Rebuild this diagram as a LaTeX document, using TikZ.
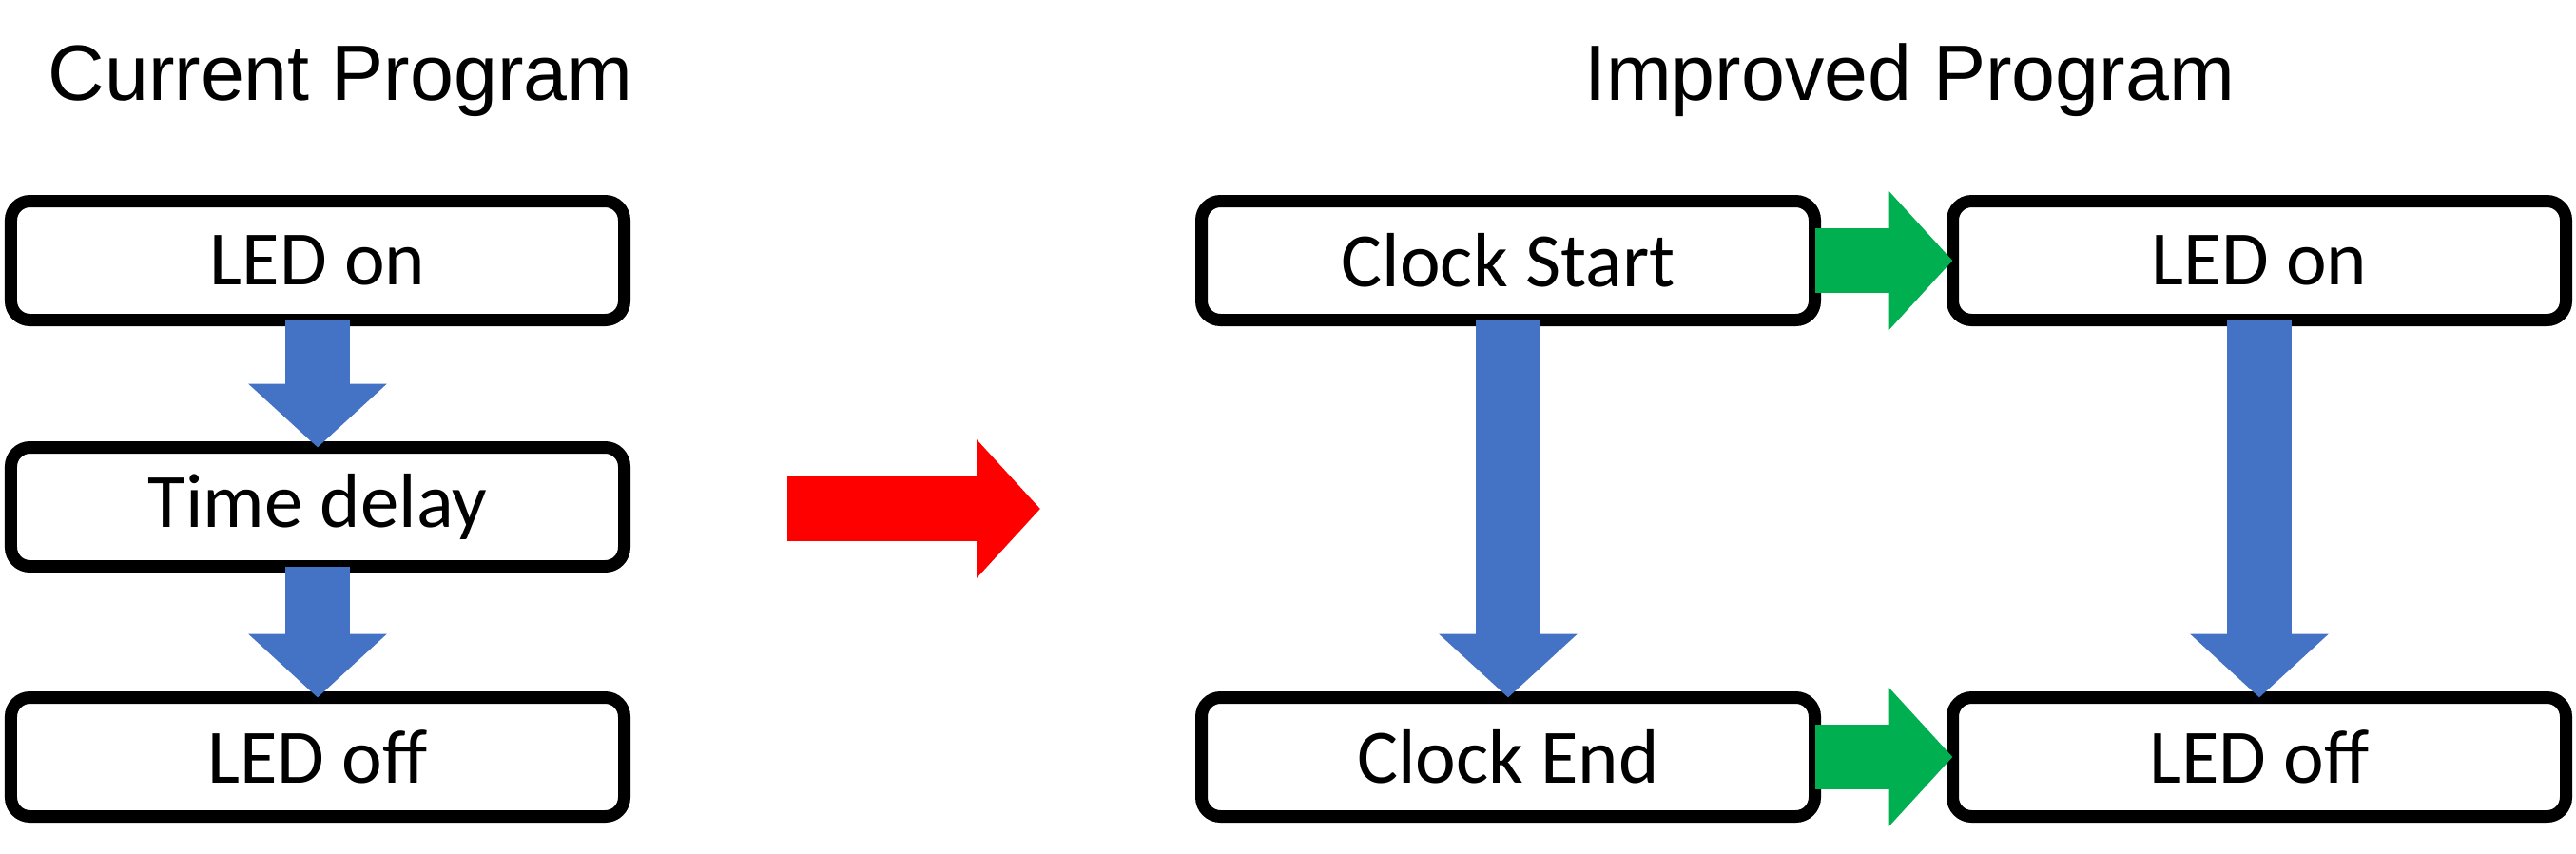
\documentclass[tikz,border=0pt]{standalone}
\usepackage{fontspec}
\setmainfont{Carlito}
\newfontfamily\titlefont{Liberation Sans}
\usepackage{xcolor}
\usetikzlibrary{arrows.meta,positioning}
\definecolor{boxblue}{HTML}{4472C4}
\definecolor{boxgreen}{HTML}{00B050}
\definecolor{boxred}{HTML}{FF0000}

\begin{document}
\begin{tikzpicture}[node distance=1.34cm and 1.45cm,
  stepbox/.style={draw,line width=0.13cm,rounded corners=0.2cm,outer sep=0pt,
    minimum width=6.45cm,minimum height=1.25cm,font=\fontsize{23}{27}\selectfont},
  heading/.style={anchor=base,font=\titlefont\fontsize{23.5}{28}\selectfont},
  fatarrow/.style={line width=0.68cm,-{Triangle[width=1.42cm,length=0.67cm]}}]
\useasboundingbox (0,0) rectangle (27.09,-8.97);
\node[heading] (curtitle) at (3.58,-1.05) {Current Program};
\node[heading] (imptitle) at (20.08,-1.05) {Improved Program};
% current program
\node[stepbox] (ledon) at (3.34,-2.74) {LED on};
\node[stepbox,below=of ledon] (delay) {Time delay};
\node[stepbox,below=1.38cm of delay] (ledoff) {LED off};
% improved program
\node[stepbox] (clkstart) at (15.86,-2.74) {Clock Start};
\node[stepbox,right=of clkstart] (newon) {LED on};
\node[stepbox,below=3.97cm of clkstart] (clkend) {Clock End};
\node[stepbox,right=of clkend] (newoff) {LED off};
\coordinate (redfrom) at (8.28,-5.35);
\coordinate (redto) at (10.94,-5.35);
\draw[fatarrow,boxblue] (ledon) -- (delay);
\draw[fatarrow,boxblue] (delay) -- (ledoff);
\draw[fatarrow,boxred] (redfrom) -- (redto);
\draw[fatarrow,boxgreen] (clkstart) -- (newon);
\draw[fatarrow,boxgreen] (clkend) -- (newoff);
\draw[fatarrow,boxblue] (clkstart) -- (clkend);
\draw[fatarrow,boxblue] (newon) -- (newoff);
\end{tikzpicture}
\end{document}
